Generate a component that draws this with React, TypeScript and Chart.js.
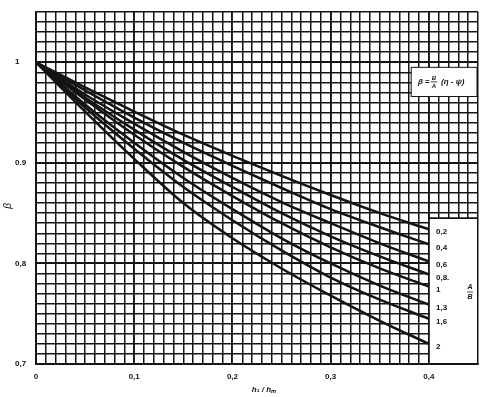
import React, { useEffect, useRef } from 'react';
import { Chart, registerables } from 'chart.js';
Chart.register(...registerables);

const xValues = [0, 0.05, 0.1, 0.15, 0.2, 0.25, 0.3, 0.35, 0.4];
const ratioLabels = ['0,2', '0,4', '0,6', '0,8.', '1', '1,3', '1,6', '2'];
const beta02 = [1, 0.975, 0.951, 0.928, 0.907, 0.887, 0.868, 0.850, 0.834];
const beta04 = [1, 0.972, 0.945, 0.920, 0.897, 0.875, 0.854, 0.836, 0.819];
const beta06 = [1, 0.968, 0.939, 0.911, 0.885, 0.861, 0.840, 0.820, 0.802];
const beta08 = [1, 0.965, 0.933, 0.903, 0.876, 0.850, 0.827, 0.807, 0.789];
const beta10 = [1, 0.963, 0.928, 0.896, 0.867, 0.840, 0.816, 0.795, 0.777];
const beta13 = [1, 0.958, 0.920, 0.885, 0.854, 0.825, 0.800, 0.778, 0.759];
const beta16 = [1, 0.955, 0.914, 0.876, 0.843, 0.813, 0.786, 0.764, 0.745];
const beta20 = [1, 0.951, 0.904, 0.860, 0.825, 0.795, 0.768, 0.743, 0.720];
const seriesList = [beta02, beta04, beta06, beta08, beta10, beta13, beta16, beta20];

const xTickLabels = ['0', '0,1', '0,2', '0,3', '0,4'];
const yTickLabels: Record<number, string> = { 70: '0,7', 80: '0,8', 90: '0.9', 100: '1' };

const FONT = '"Liberation Sans", Arial, sans-serif';
const INK = '#141414';

const overlayPlugin = {
  id: 'overlay',
  beforeDatasetsDraw(chart: any) {
    const { ctx, scales } = chart;
    const x = scales.x, y = scales.y;
    ctx.save();
    // legend box (right, bottom)
    const lx = x.getPixelForValue(0.4);
    const rx = x.getPixelForValue(0.45);
    const ty = y.getPixelForValue(0.845);
    const by = y.getPixelForValue(0.7);
    ctx.fillStyle = '#fff';
    ctx.fillRect(lx + 1, ty, rx - lx - 2, by - ty - 1);
    ctx.strokeStyle = INK;
    ctx.lineWidth = 1.6;
    ctx.beginPath();
    ctx.moveTo(lx, ty);
    ctx.lineTo(rx, ty);
    ctx.stroke();
    // formula box
    const fx0 = x.getPixelForValue(0.382);
    const fy0 = y.getPixelForValue(0.995);
    const fy1 = y.getPixelForValue(0.966);
    ctx.fillStyle = '#fff';
    ctx.fillRect(fx0, fy0, rx - fx0 - 1, fy1 - fy0);
    ctx.strokeStyle = INK;
    ctx.lineWidth = 1;
    ctx.strokeRect(fx0, fy0, rx - fx0 - 1, fy1 - fy0);
    // formula text
    const cy = (fy0 + fy1) / 2;
    ctx.fillStyle = INK;
    ctx.textBaseline = 'middle';
    ctx.textAlign = 'left';
    ctx.font = 'italic bold 8px ' + FONT;
    ctx.fillText('β', 418, cy);
    ctx.font = 'bold 8px ' + FONT;
    ctx.fillText('=', 425, cy);
    ctx.font = 'italic bold 6px ' + FONT;
    ctx.textAlign = 'center';
    ctx.fillText('B', 434, cy - 4);
    ctx.fillText('A', 434, cy + 4);
    ctx.lineWidth = 0.8;
    ctx.beginPath();
    ctx.moveTo(431, cy);
    ctx.lineTo(437, cy);
    ctx.stroke();
    ctx.textAlign = 'left';
    ctx.font = 'italic bold 8px ' + FONT;
    ctx.fillText('(η - ψ)', 441, cy);
    // ratio labels
    ctx.font = 'bold 8px ' + FONT;
    ctx.textAlign = 'left';
    seriesList.forEach((s, i) => {
      const py = y.getPixelForValue(s[s.length - 1]) + 3;
      ctx.fillText(ratioLabels[i], 436, py);
    });
    // A/B legend fraction
    ctx.font = 'italic bold 7px ' + FONT;
    ctx.textAlign = 'center';
    ctx.fillText('A', 470, 287);
    ctx.fillText('B', 470, 297);
    ctx.lineWidth = 0.8;
    ctx.beginPath();
    ctx.moveTo(467, 292);
    ctx.lineTo(473, 292);
    ctx.stroke();
    ctx.restore();
  },
  afterDraw(chart: any) {
    const { ctx } = chart;
    ctx.save();
    ctx.fillStyle = INK;
    ctx.textBaseline = 'middle';
    ctx.textAlign = 'center';
    ctx.font = 'italic bold 8px ' + FONT;
    ctx.fillText('h₁ / hₘ', 264, 390);
    ctx.translate(8, 206);
    ctx.rotate(-Math.PI / 2);
    ctx.font = 'italic 10px ' + FONT;
    ctx.fillText('β', 0, 0);
    ctx.restore();
  },
};

export default function App() {
  const ref = useRef<HTMLCanvasElement | null>(null);
  useEffect(() => {
    document.body.style.margin = '0';
    const canvas = ref.current;
    if (!canvas) return;
    const datasets = seriesList.map((s, i) => ({
      label: ratioLabels[i],
      data: s.map((v, j) => ({ x: xValues[j], y: v })),
      borderColor: INK,
      borderWidth: 2.5,
      pointRadius: 0,
      fill: false,
      cubicInterpolationMode: 'monotone' as const,
    }));
    const gridWidth = (c: any) => {
      const v = c.tick ? Math.round(c.tick.value * 100) : 0;
      return v % 10 === 0 ? 1.9 : 1.5;
    };
    const chart = new Chart(canvas, {
      type: 'line',
      data: { datasets },
      plugins: [overlayPlugin],
      options: {
        animation: false,
        responsive: false,
        layout: { padding: { left: 15, right: 5, top: 12, bottom: 0 } },
        plugins: { legend: { display: false }, tooltip: { enabled: false } },
        scales: {
          x: {
            type: 'linear',
            min: 0,
            max: 0.45,
            afterBuildTicks: (scale: any) => {
              const t = [];
              for (let i = 0; i <= 45; i++) t.push({ value: i / 100 });
              scale.ticks = t;
            },
            afterFit: (scale: any) => { scale.height = 33; },
            grid: { color: INK, lineWidth: gridWidth, drawTicks: false },
            border: { color: INK, width: 1.8 },
            ticks: {
              autoSkip: false,
              maxRotation: 0,
              padding: 8,
              color: INK,
              font: { family: FONT, size: 8, weight: 'bold' },
              callback: (v: any) => {
                const k = Math.round(Number(v) * 100);
                return k % 10 === 0 ? xTickLabels[k / 10] ?? '' : '';
              },
            },
          },
          y: {
            type: 'linear',
            min: 0.7,
            max: 1.05,
            afterBuildTicks: (scale: any) => {
              const t = [];
              for (let i = 70; i <= 105; i++) t.push({ value: i / 100 });
              scale.ticks = t;
            },
            afterFit: (scale: any) => { scale.width = 21; },
            grid: { color: INK, lineWidth: gridWidth, drawTicks: false },
            border: { color: INK, width: 1.8 },
            ticks: {
              autoSkip: false,
              crossAlign: 'far',
              color: INK,
              font: { family: FONT, size: 8, weight: 'bold' },
              callback: (v: any) => {
                const k = Math.round(Number(v) * 100);
                return yTickLabels[k] ?? '';
              },
            },
          },
        },
      },
    });
    return () => chart.destroy();
  }, []);
  return <canvas ref={ref} width={486} height={397} style={{ display: 'block' }} />;
}
